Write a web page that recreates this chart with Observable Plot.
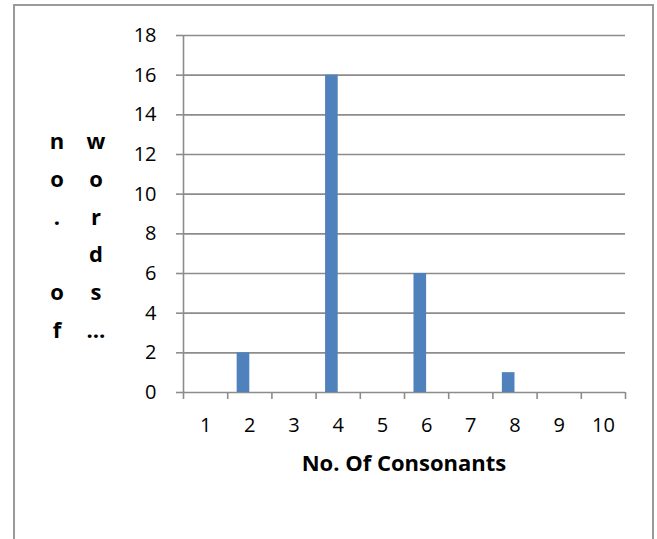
<!DOCTYPE html>
<html>
<head>
<meta charset="utf-8">
<script src="https://cdn.jsdelivr.net/npm/d3@7"></script>
<script src="https://cdn.jsdelivr.net/npm/@observablehq/plot@0.6"></script>
<style>
  html, body { margin: 0; padding: 0; background: #fff; overflow: hidden; }
  body { width: 657px; height: 539px; position: relative; font-family: "Open Sans", sans-serif; }
  #frame { position: absolute; left: 13px; top: 4px; width: 641px; height: 600px; border: 2px solid #9a9a9a; box-sizing: border-box; }
  #chart { position: absolute; left: 0; top: 0; }
  #chart svg text { font-size: 20px; }
  .ytitle { position: absolute; top: 122px; width: 30px; margin-left: -15px; text-align: center;
            font-weight: bold; font-size: 22px; line-height: 37.8px; white-space: pre; color: #000; }
  #xtitle { position: absolute; top: 451px; left: 183px; width: 442px; text-align: center;
            font-weight: bold; font-size: 22px; line-height: 22px; color: #000; }
</style>
</head>
<body>
<div id="frame"></div>
<div id="chart"></div>
<div class="ytitle" id="ytitle1" style="left:57px"></div>
<div class="ytitle" id="ytitle2" style="left:96px"></div>
<div id="xtitle"></div>
<script>
// Number of consonants per word and how many words have that count
const consonants = [1, 2, 3, 4, 5, 6, 7, 8, 9, 10];
const wordCounts = [0, 2, 0, 16, 0, 6, 0, 1, 0, 0];
const yTicks = [0, 2, 4, 6, 8, 10, 12, 14, 16, 18];

const xTitle = "No. Of Consonants";
// Vertical axis title, stacked one character per line in two columns
const yTitleColumns = [["n", "o", ".", " ", "o", "f"], ["w", "o", "r", "d", "s", "…"]];

// Clustered-column geometry: two series slots with a 150% gap
const seriesSlots = 2;
const gapWidth = 1.5;
const barWidth = 1 / (seriesSlots + gapWidth);

const data = consonants.map((n, i) => ({n, count: wordCounts[i]}));
const bounds = [...consonants.map(c => c - 0.5), consonants[consonants.length - 1] + 0.5];
const grid = "#8c8c8c";

const chart = Plot.plot({
  width: 657,
  height: 539,
  marginLeft: 183,
  marginRight: 32,
  marginTop: 35,
  marginBottom: 147,
  style: {fontFamily: "'Open Sans', sans-serif", fontSize: "20px", color: "#000", background: "transparent"},
  x: {type: "linear", domain: [bounds[0], bounds[bounds.length - 1]]},
  y: {domain: [0, 18]},
  marks: [
    Plot.ruleY(yTicks, {stroke: grid, strokeWidth: 1.6}),
    Plot.ruleX([bounds[0]], {stroke: grid, strokeWidth: 1.6}),
    Plot.axisY({ticks: yTicks, tickSize: 7, tickPadding: 20, stroke: grid, strokeWidth: 1.6,
                fill: "#000", fontSize: 20, label: null}),
    // category boundary ticks below the baseline
    Plot.axisX({ticks: bounds, tickSize: 7, stroke: grid, strokeWidth: 1.6,
                tickFormat: () => "", label: null}),
    // category labels centred under each slot
    Plot.axisX({ticks: consonants, tickSize: 0, tickPadding: 25, fill: "#000", fontSize: 20,
                tickFormat: d => String(d), label: null}),
    Plot.rectY(data.filter(d => d.count > 0), {
      x1: d => d.n - barWidth,
      x2: d => d.n,
      y: "count",
      fill: "#4f81bd"
    })
  ]
});
document.getElementById("chart").appendChild(chart);

document.getElementById("xtitle").textContent = xTitle;
document.getElementById("ytitle1").textContent = yTitleColumns[0].join("\n");
document.getElementById("ytitle2").textContent = yTitleColumns[1].join("\n");
</script>
</body>
</html>
